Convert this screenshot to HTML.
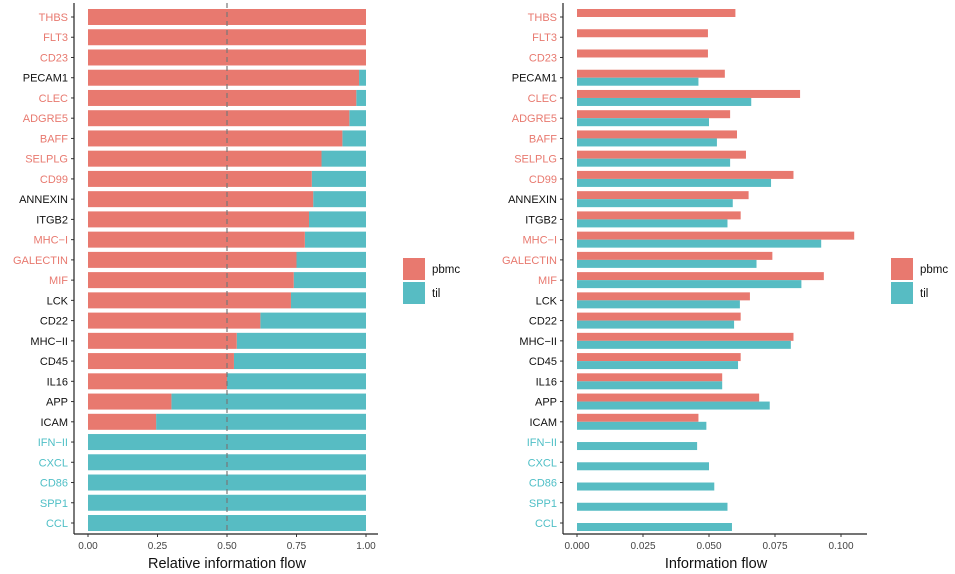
<!DOCTYPE html>
<html><head><meta charset="utf-8"><style>
html,body{margin:0;padding:0;background:#fff;}
svg{display:block;font-family:"Liberation Sans",sans-serif;}
</style></head><body>
<svg id="chart" width="955" height="574" viewBox="0 0 955 574" xmlns="http://www.w3.org/2000/svg"></svg>
<script>
const categories=["THBS","FLT3","CD23","PECAM1","CLEC","ADGRE5","BAFF","SELPLG","CD99","ANNEXIN","ITGB2","MHC-I","GALECTIN","MIF","LCK","CD22","MHC-II","CD45","IL16","APP","ICAM","IFN-II","CXCL","CD86","SPP1","CCL"];
const labelGroup=["p","p","p","n","p","p","p","p","p","n","n","p","p","p","n","n","n","n","n","n","n","t","t","t","t","t"];
const relPbmc=[1,1,1,0.975,0.965,0.94,0.915,0.84,0.805,0.81,0.795,0.78,0.75,0.74,0.73,0.62,0.535,0.525,0.50,0.30,0.245,0,0,0,0,0];
const flowPbmc=[0.060,0.0496,0.0496,0.056,0.0845,0.058,0.0606,0.064,0.082,0.065,0.062,0.105,0.074,0.0935,0.0655,0.062,0.082,0.062,0.055,0.069,0.046,0,0,0,0,0];
const flowTil=[0,0,0,0.046,0.066,0.050,0.053,0.058,0.0735,0.059,0.057,0.0925,0.068,0.085,0.0617,0.0595,0.081,0.061,0.055,0.073,0.049,0.0455,0.050,0.052,0.057,0.0587];
const leftTicks=[0,0.25,0.5,0.75,1.0];
const leftTickLabels=["0.00","0.25","0.50","0.75","1.00"];
const rightTicks=[0,0.025,0.05,0.075,0.1];
const rightTickLabels=["0.000","0.025","0.050","0.075","0.100"];

const RED="#E8796F",TEAL="#57BCC3",LRED="#E8796F",LTEAL="#4FBFC6";
const svg=document.getElementById('chart');
const NS="http://www.w3.org/2000/svg";
function mk(tag,attrs,parent){const e=document.createElementNS(NS,tag);for(const k in attrs)e.setAttribute(k,attrs[k]);(parent||svg).appendChild(e);return e;}
const yPos=i=>17+i*20.24;
const xL=v=>88+v*278;
const xR=v=>577+v*2640;
const labelColor=g=>g==="p"?LRED:(g==="t"?LTEAL:"#111");

// LEFT PANEL
const gl=mk('g',{});

categories.forEach((c,i)=>{
  const y=yPos(i);
  const r=relPbmc[i];
  if(r<1){const b=mk('rect',{x:xL(r),y:y-8,width:xL(1)-xL(r),height:16,fill:TEAL},gl);
    }
  if(r>0){const b=mk('rect',{x:xL(0),y:y-8,width:xL(r)-xL(0),height:16,fill:RED},gl);
    }
  mk('line',{x1:71,x2:74,y1:y,y2:y,stroke:'#333','stroke-width':1},gl);
  const t=mk('text',{x:68,y:y+4,'text-anchor':'end','font-size':11,fill:labelColor(labelGroup[i])},gl);
  t.textContent=c.replace('-','\u2212');
  
});
mk('line',{x1:xL(0.5),x2:xL(0.5),y1:3,y2:533,stroke:'#777','stroke-width':1.2,'stroke-dasharray':'5,4'},gl);
mk('line',{x1:74,x2:74,y1:3,y2:534,stroke:'#222','stroke-width':1.2},gl);
mk('line',{x1:74,x2:378,y1:534,y2:534,stroke:'#222','stroke-width':1.2},gl);
leftTicks.forEach((v,i)=>{
  mk('line',{x1:xL(v),x2:xL(v),y1:534,y2:537,stroke:'#333'},gl);
  const t=mk('text',{x:xL(v),y:549,'text-anchor':'middle','font-size':10,fill:'#444'},gl);
  t.textContent=leftTickLabels[i];
  
});
const lt=mk('text',{x:227,y:568,'text-anchor':'middle','font-size':14.5,fill:'#111'},gl);
lt.textContent="Relative information flow";

// RIGHT PANEL
const gr=mk('g',{});

categories.forEach((c,i)=>{
  const y=yPos(i);
  if(flowPbmc[i]>0){const b=mk('rect',{x:xR(0),y:y-8,width:xR(flowPbmc[i])-xR(0),height:8,fill:RED},gr);
    }
  if(flowTil[i]>0){const b=mk('rect',{x:xR(0),y:y,width:xR(flowTil[i])-xR(0),height:8,fill:TEAL},gr);
    }
  mk('line',{x1:560,x2:563,y1:y,y2:y,stroke:'#333'},gr);
  const t=mk('text',{x:557,y:y+4,'text-anchor':'end','font-size':11,fill:labelColor(labelGroup[i])},gr);
  t.textContent=c.replace('-','\u2212');
  
});
mk('line',{x1:563,x2:563,y1:3,y2:534,stroke:'#222','stroke-width':1.2},gr);
mk('line',{x1:563,x2:867,y1:534,y2:534,stroke:'#222','stroke-width':1.2},gr);
rightTicks.forEach((v,i)=>{
  mk('line',{x1:xR(v),x2:xR(v),y1:534,y2:537,stroke:'#333'},gr);
  const t=mk('text',{x:xR(v),y:549,'text-anchor':'middle','font-size':10,fill:'#444'},gr);
  t.textContent=rightTickLabels[i];
  
});
const rt=mk('text',{x:716,y:568,'text-anchor':'middle','font-size':14.5,fill:'#111'},gr);
rt.textContent="Information flow";

// LEGENDS
[[403,'left-legend'],[891,'right-legend']].forEach(([lx,name])=>{
  const g=mk('g',{});
  
  [['pbmc',RED,258],['til',TEAL,282]].forEach(([lab,col,ly])=>{
    mk('rect',{x:lx,y:ly,width:22,height:22,fill:col},g);
    const t=mk('text',{x:lx+29,y:ly+15,'font-size':11.5,fill:'#111'},g);
    t.textContent=lab;
  });
});
</script>
</body></html>
